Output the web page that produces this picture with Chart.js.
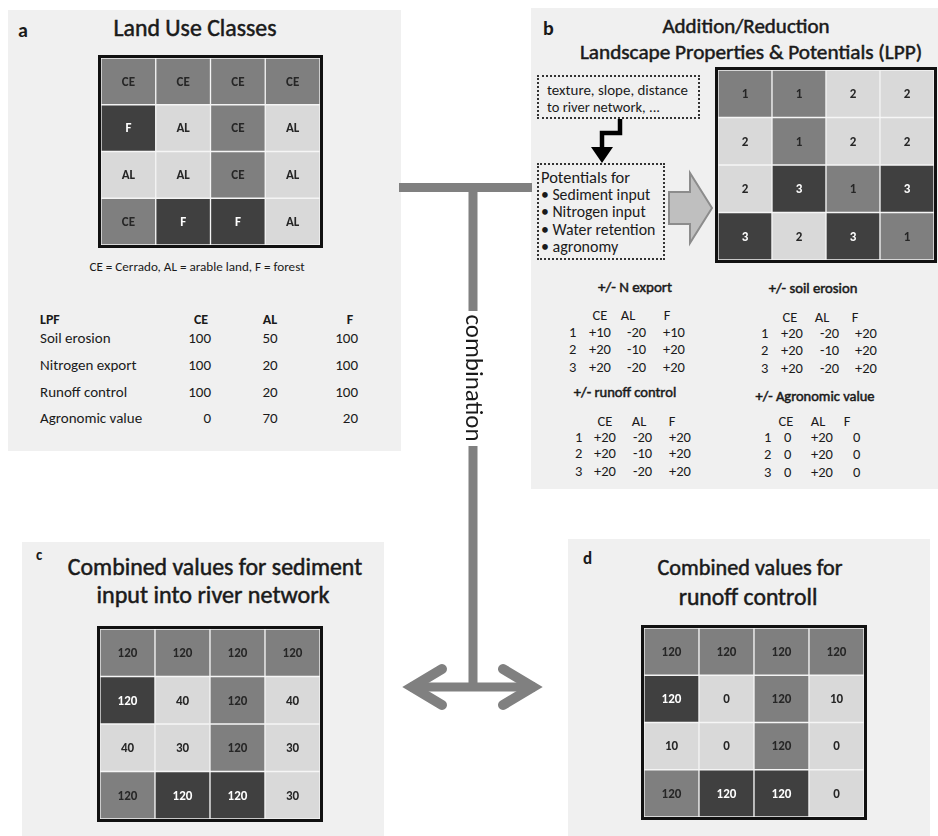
<!DOCTYPE html>
<html>
<head>
<meta charset="utf-8">
<script src="https://cdn.jsdelivr.net/npm/chart.js@4.4.1/dist/chart.umd.min.js"></script>
<style>
body { margin: 0; background: #fff; }
#page { position: relative; width: 938px; height: 836px; overflow: hidden; font-family: Calibri, Carlito, Lato, sans-serif; color: #1a1a1a; }
.panel { position: absolute; background: #f0f0f0; }
.t { position: absolute; white-space: pre; line-height: 1; }
.semi { -webkit-text-stroke: 0.5px currentColor; }
.grid { position: absolute; box-sizing: border-box; border: 3px solid #111; background: #fff; }
.grid canvas { display: block; }
.dots { position: absolute; box-sizing: border-box; border: 2px dotted #333; }
svg { position: absolute; left: 0; top: 0; }
</style>
</head>
<body>
<div id="page"></div>
<script>
// land use classes per cell (rows top to bottom)
const landUse = [
  ['CE', 'CE', 'CE', 'CE'],
  ['F', 'AL', 'CE', 'AL'],
  ['AL', 'AL', 'CE', 'AL'],
  ['CE', 'F', 'F', 'AL']
];
// LPP classes
const lppClass = [
  [1, 1, 2, 2],
  [2, 1, 2, 2],
  [2, 3, 1, 3],
  [3, 2, 3, 1]
];
const sediment = [
  [120, 120, 120, 120],
  [120, 40, 120, 40],
  [40, 30, 120, 30],
  [120, 120, 120, 30]
];
const runoff = [
  [120, 120, 120, 120],
  [120, 0, 120, 10],
  [10, 0, 120, 0],
  [120, 120, 120, 0]
];
const lpfNames = ['Soil erosion', 'Nitrogen export', 'Runoff control', 'Agronomic value'];
const lpfCE = [100, 100, 100, 0];
const lpfAL = [50, 20, 20, 70];
const lpfF = [100, 100, 100, 20];
const nExport = [['+10', '-20', '+10'], ['+20', '-10', '+20'], ['+20', '-20', '+20']];
const soilErosion = [['+20', '-20', '+20'], ['+20', '-10', '+20'], ['+20', '-20', '+20']];
const runoffCtrl = [['+20', '-20', '+20'], ['+20', '-10', '+20'], ['+20', '-20', '+20']];
const agroValue = [['0', '+20', '0'], ['0', '+20', '0'], ['0', '+20', '0']];

const MID = '#7f7f7f', LIGHT = '#d9d9d9', DARK = '#404040';
const classColor = { CE: MID, AL: LIGHT, F: DARK };
const lppColor = { 1: MID, 2: LIGHT, 3: DARK };
const FONT = 'Calibri, Carlito, Lato, sans-serif';

const page = document.getElementById('page');

function addBox(cls, x, y, w, h) {
  const d = document.createElement('div');
  d.className = cls;
  Object.assign(d.style, { left: x + 'px', top: y + 'px', width: w + 'px', height: h + 'px' });
  page.appendChild(d);
  return d;
}

function addText(txt, x, y, o = {}) {
  const d = document.createElement('div');
  d.className = 't' + (o.semi ? ' semi' : '');
  d.textContent = txt;
  const size = o.size || 14.5;
  d.style.fontSize = size + 'px';
  if (o.bold) d.style.fontWeight = 'bold';
  if (o.color) d.style.color = o.color;
  d.style.left = x + 'px';
  d.style.top = y + 'px';
  page.appendChild(d);
  if (o.width) d.style.fontSize = (size * o.width / d.offsetWidth).toFixed(2) + 'px';
  const ax = o.align === 'center' ? '-50%' : o.align === 'right' ? '-100%' : '0';
  d.style.transform = `translate(${ax}, -50%)` + (o.rotate ? ` rotate(${o.rotate}deg)` : '');
  return d;
}

function drawGrid(x, y, w, h, labels, colors) {
  const wrap = addBox('grid', x, y, w, h);
  const cv = document.createElement('canvas');
  cv.width = w - 6;
  cv.height = h - 6;
  wrap.appendChild(cv);
  new Chart(cv, {
    type: 'bar',
    data: {
      labels: labels[0].map((_, i) => 'col' + (i + 1)),
      datasets: labels.map((row, r) => ({
        data: row.map(() => 1),
        backgroundColor: colors[r],
        borderColor: '#f4f4f4',
        borderWidth: 1,
        borderSkipped: false,
        barPercentage: 1,
        categoryPercentage: 1
      }))
    },
    options: {
      responsive: false,
      animation: false,
      events: [],
      layout: { padding: 0 },
      scales: {
        x: { display: false, stacked: true },
        y: { display: false, stacked: true, min: 0, max: labels.length, reverse: true }
      },
      plugins: { legend: { display: false }, tooltip: { enabled: false } }
    },
    plugins: [{
      id: 'cellText',
      afterDatasetsDraw(chart) {
        const ctx = chart.ctx;
        ctx.save();
        ctx.font = 'bold 13px ' + FONT;
        ctx.textAlign = 'center';
        ctx.textBaseline = 'middle';
        chart.data.datasets.forEach((ds, r) => {
          chart.getDatasetMeta(r).data.forEach((bar, c) => {
            const p = bar.getCenterPoint();
            ctx.fillStyle = ds.backgroundColor[c] === DARK ? '#ffffff' : '#262626';
            ctx.fillText(String(labels[r][c]), p.x, p.y + 1);
          });
        });
        ctx.restore();
      }
    }]
  });
}

// panels
addBox('panel', 8, 10, 393, 441);
addBox('panel', 531, 8, 407, 481);
addBox('panel', 22, 542, 362, 294);
addBox('panel', 568, 539, 362, 297);

// panel a
addText('a', 18, 30, { size: 20, bold: true });
addText('Land Use Classes', 195, 28, { size: 20, semi: true, align: 'center', width: 163 });
drawGrid(98, 55, 225, 193, landUse, landUse.map(r => r.map(c => classColor[c])));
addText('CE = Cerrado, AL = arable land, F = forest', 197, 267, { size: 11, align: 'center', width: 215 });
addText('LPF', 40, 320, { size: 14, bold: true });
addText('CE', 201, 320, { size: 14, bold: true, align: 'center' });
addText('AL', 270, 320, { size: 14, bold: true, align: 'center' });
addText('F', 350, 320, { size: 14, bold: true, align: 'center' });
const lpfY = [338, 365, 392, 418];
lpfNames.forEach((n, i) => {
  addText(n, 40, lpfY[i], { size: 15 });
  addText(String(lpfCE[i]), 211, lpfY[i], { size: 15, align: 'right' });
  addText(String(lpfAL[i]), 270, lpfY[i], { size: 15, align: 'center' });
  addText(String(lpfF[i]), 358, lpfY[i], { size: 15, align: 'right' });
});

// panel b
addText('b', 543, 28, { size: 20, bold: true });
addText('Addition/Reduction', 746, 27, { size: 20, semi: true, align: 'center', width: 167 });
addText('Landscape Properties & Potentials (LPP)', 751, 53, { size: 20, semi: true, align: 'center', width: 342 });
addBox('dots', 537, 75, 163, 44);
addText('texture, slope, distance', 547, 90, { size: 14, width: 141 });
addText('to river network, ...', 547, 107, { size: 14, width: 113 });
addBox('dots', 537, 163, 128, 97);
const box2W = [89, 109, 105, 114, 77];
['Potentials for', '\u2022 Sediment input', '\u2022 Nitrogen input', '\u2022 Water retention', '\u2022 agronomy']
  .forEach((s, i) => addText(s, 541, 177 + i * 17.5, { size: 15, width: box2W[i] }));
drawGrid(715, 67, 222, 196, lppClass, lppClass.map(r => r.map(c => lppColor[c])));

function smallTable(title, tx, ty, tw, hdrX, hdrY, numX, valX, rowY, vals) {
  addText(title, tx, ty, { size: 14, semi: true, align: 'center', width: tw });
  ['CE', 'AL', 'F'].forEach((h, i) => addText(h, hdrX[i], hdrY, { size: 14.5, align: 'center' }));
  vals.forEach((row, r) => {
    addText(String(r + 1), numX, rowY[r], { size: 14.5 });
    row.forEach((v, c) => addText(v, valX[c], rowY[r], { size: 14.5 }));
  });
}
smallTable('+/- N export', 635, 288, 74, [600, 628, 667], 315, 569, [589, 627, 663], [332, 349, 367], nExport);
smallTable('+/- soil erosion', 813, 288, 89, [790, 822, 855], 317, 761, [781, 820, 855], [333, 350, 368], soilErosion);
smallTable('+/- runoff control', 625, 392, 103, [605, 639, 672], 421, 575, [594, 633, 669], [437, 453, 471], runoffCtrl);
smallTable('+/- Agronomic value', 815, 396, 119, [786, 818, 847], 421, 764, [784, 811, 853], [437, 454, 472], agroValue);

// panel c
addText('c', 36, 555, { size: 15, bold: true });
addText('Combined values for sediment', 215, 567, { size: 21, semi: true, align: 'center', width: 294 });
addText('input into river network', 213, 595, { size: 21, semi: true, align: 'center', width: 233 });
drawGrid(97, 626, 226, 196, sediment, landUse.map(r => r.map(c => classColor[c])));

// panel d
addText('d', 583, 558, { size: 17, bold: true });
addText('Combined values for', 750, 568, { size: 21, semi: true, align: 'center', width: 185 });
addText('runoff controll', 748, 597, { size: 21, semi: true, align: 'center', width: 139 });
drawGrid(641, 625, 226, 195, runoff, landUse.map(r => r.map(c => classColor[c])));

// connectors and arrows
const NS = 'http://www.w3.org/2000/svg';
const svg = document.createElementNS(NS, 'svg');
svg.setAttribute('width', 938);
svg.setAttribute('height', 836);
svg.innerHTML = `
  <g stroke="#808080" stroke-width="9" fill="none">
    <line x1="399" y1="187.5" x2="532" y2="187.5"/>
    <line x1="473" y1="187" x2="473" y2="311"/>
    <line x1="473" y1="446" x2="473" y2="687"/>
    <line x1="410" y1="687" x2="535" y2="687"/>
  </g>
  <g stroke="#808080" stroke-width="10" fill="none" stroke-linecap="round" stroke-linejoin="miter">
    <polyline points="442,669 412,687 442,705"/>
    <polyline points="503,669 533,687 503,705"/>
  </g>
  <g stroke="#000" stroke-width="4.5" fill="none">
    <polyline points="620,119 620,133 602,133 602,150"/>
  </g>
  <polygon points="591,147 613,147 602,163" fill="#000"/>
  <polygon points="669,192 690,192 690,173 712,208 690,243 690,224 669,224" fill="#bfbfbf" stroke="#8c8c8c" stroke-width="2"/>
`;
page.appendChild(svg);

addText('combination', 474, 378, { size: 22, align: 'center', rotate: 90, width: 127 });
</script>
</body>
</html>
